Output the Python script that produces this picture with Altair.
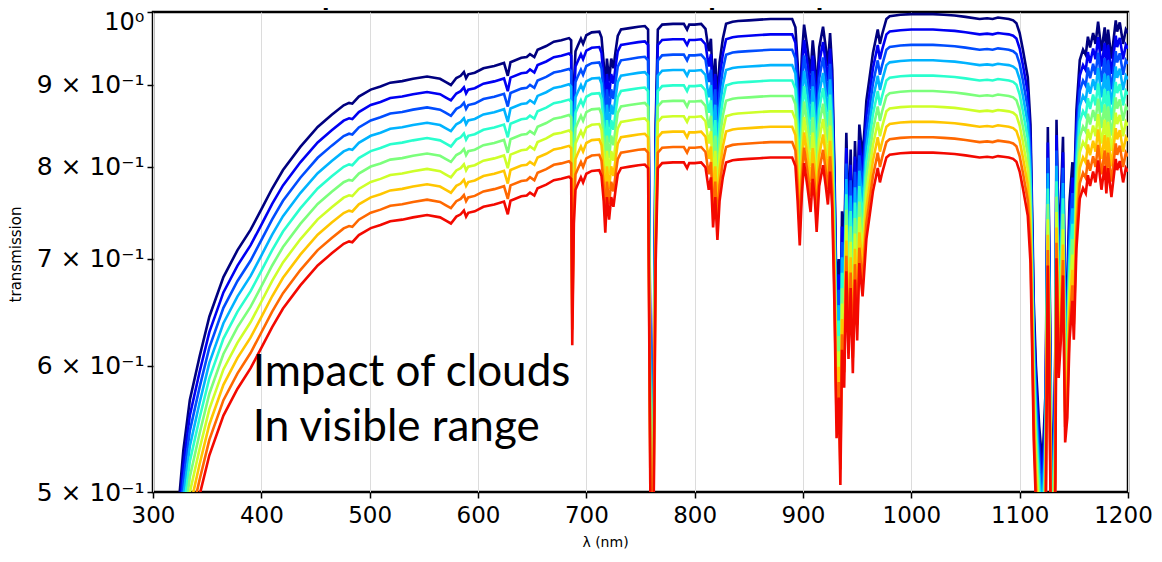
import altair as alt
import pandas as pd

# ---------------- data ----------------
wavelength_nm = [300, 310, 318, 325, 328, 334, 343, 352, 365, 378, 390, 400, 410, 420, 436, 452, 465, 476, 481, 484,
                 490, 501, 510, 519, 530, 540, 553, 565, 570, 575, 580, 584, 587, 589, 591, 597, 605, 615, 624, 627.5,
                 630, 640, 645, 648, 652, 655, 663, 670, 677, 684, 686, 687, 688.5, 690, 692, 695, 697, 700, 705, 712,
                 714, 716, 717.5, 719, 721, 723, 725, 727, 729, 732, 740, 748, 754, 757, 759, 760.5, 762, 764, 766, 770,
                 780, 790, 793, 795, 800, 806, 810, 813, 815, 817, 819, 821, 823, 826, 829, 835, 840, 850, 860, 870,
                 880, 890, 893, 895, 897, 899, 901, 904, 907, 909, 911, 912.6, 915, 918.5, 921, 923, 925, 927, 929, 931,
                 933, 934.5, 936, 938, 940, 942, 944, 946, 948, 950, 952, 955, 958.5, 961, 964.6, 967, 969, 971, 973, 977,
                 980, 990, 1000, 1010, 1020, 1030, 1040, 1050, 1063, 1070, 1075, 1080, 1085, 1090, 1094, 1097, 1100, 1103,
                 1107.5, 1110, 1112, 1113, 1115, 1118, 1121, 1124, 1126, 1127.5, 1129, 1131, 1133, 1134, 1136, 1138, 1140,
                 1142, 1144, 1146, 1148.7, 1150, 1152.4, 1155.5, 1158.5, 1161, 1163, 1165, 1167.8, 1170, 1172.4, 1175.5,
                 1178.5, 1180, 1181.6, 1184.7, 1188.7, 1190, 1192.4, 1195.5, 1198, 1200]

# transmission without clouds (top, dark-blue curve)
clear_sky_transmission = [0.30, 0.37, 0.445, 0.503, 0.531, 0.571, 0.608, 0.644, 0.682, 0.709, 0.730, 0.752, 0.775, 0.796,
                          0.823, 0.847, 0.862, 0.874, 0.877, 0.876, 0.885, 0.894, 0.898, 0.903, 0.905, 0.908, 0.911, 0.908,
                          0.904, 0.900, 0.909, 0.912, 0.917, 0.909, 0.914, 0.916, 0.922, 0.925, 0.929, 0.912, 0.930, 0.936,
                          0.937, 0.941, 0.937, 0.947, 0.952, 0.958, 0.960, 0.963, 0.960, 0.755, 0.90, 0.945, 0.952, 0.962,
                          0.955, 0.967, 0.971, 0.972, 0.964, 0.93, 0.888, 0.935, 0.905, 0.935, 0.922, 0.945, 0.966, 0.975,
                          0.977, 0.979, 0.980, 0.975, 0.62, 0.45, 0.58, 0.85, 0.975, 0.982, 0.983, 0.983, 0.975, 0.982,
                          0.982, 0.983, 0.976, 0.945, 0.962, 0.895, 0.935, 0.879, 0.93, 0.962, 0.983, 0.986, 0.987, 0.988,
                          0.989, 0.990, 0.990, 0.990, 0.978, 0.93, 0.872, 0.94, 0.982, 0.95, 0.915, 0.96, 0.93, 0.889,
                          0.95, 0.979, 0.95, 0.925, 0.97, 0.92, 0.80, 0.66, 0.70, 0.617, 0.75, 0.71, 0.84, 0.74, 0.82,
                          0.725, 0.83, 0.76, 0.85, 0.81, 0.88, 0.905, 0.943, 0.96, 0.975, 0.955, 0.968, 0.99, 0.994,
                          0.996, 0.997, 0.997, 0.997, 0.996, 0.995, 0.993, 0.990, 0.991, 0.990, 0.992, 0.991, 0.990,
                          0.988, 0.984, 0.970, 0.947, 0.910, 0.85, 0.72, 0.658, 0.60, 0.55, 0.52, 0.58, 0.847, 0.70,
                          0.56, 0.50, 0.62, 0.856, 0.72, 0.76, 0.835, 0.656, 0.68, 0.76, 0.805, 0.761, 0.868, 0.933,
                          0.947, 0.94, 0.965, 0.95, 0.97, 0.955, 0.986, 0.945, 0.978, 0.94, 0.975, 0.935, 0.988, 0.972,
                          0.985, 0.955, 0.975, 0.97]

# cloud transmission factor of each curve (optical depth 0 ... 0.2)
optical_depth_labels = ["0.000", "0.022", "0.044", "0.067", "0.089", "0.111", "0.133", "0.156", "0.178", "0.200"]
cloud_factor = [1.000, 0.978, 0.9565, 0.9355, 0.915, 0.8948, 0.8751, 0.8559, 0.8371, 0.8187]
line_colors = ["#000080", "#0000f3", "#004dff", "#00b3ff", "#29ffce", "#7bff7b", "#ceff29", "#ffc600", "#ff6800", "#f30900"]

x_ticks = [300, 400, 500, 600, 700, 800, 900, 1000, 1100, 1200]
y_ticks = [0.5, 0.6, 0.7, 0.8, 0.9, 1.0]

annotation_text = ["Impact of clouds", "In visible range"]
annotation_x = [392, 392]
annotation_y = [0.583, 0.538]
title_text = "Atmospheric transmission for cloud optical depth from 0 to 0.2"

# ---------------- tables ----------------
rows = []
for lab, f in zip(optical_depth_labels, cloud_factor):
    for w, t in zip(wavelength_nm, clear_sky_transmission):
        rows.append({"tau": lab, "wl": w, "tr": t * f})
df = pd.DataFrame(rows)
ann_df = pd.DataFrame({"txt": annotation_text, "wl": annotation_x, "tr": annotation_y})
title_df = pd.DataFrame({"t": [title_text]})

x_scale = alt.Scale(domain=[300, 1200], nice=False, zero=False)
y_scale = alt.Scale(type="log", domain=[0.5, 1.0], nice=False)

lines = alt.Chart(df).mark_line(strokeWidth=2.6, clip=True).encode(
    x=alt.X("wl:Q", scale=x_scale,
            axis=alt.Axis(values=x_ticks, format="d", labelFlush=False, title="λ (nm)", grid=True,
                          gridColor="#dcdcdc", gridWidth=1,
                          labelOffset={"condition": {"test": "datum.value >= 1199", "value": -5}, "value": 0},
                          domain=False, labelFont="DejaVu Sans", labelFontSize=23, labelColor="black",
                          labelPadding=6, tickColor="black", tickSize=6, tickWidth=1.5,
                          titleFont="DejaVu Sans", titleFontSize=14, titleFontWeight="normal", titleColor="black",
                          titleX=452, titleY=50, titleBaseline="middle", titleAlign="center")),
    y=alt.Y("tr:Q", scale=y_scale,
            axis=alt.Axis(values=y_ticks, title="transmission", grid=False, domain=False,
                          labelExpr="datum.value >= 0.999 ? '10⁰' : format(round(datum.value*10), 'd') + ' × 10⁻¹'",
                          labelOffset={"condition": {"test": "datum.value >= 0.999", "value": 10}, "value": 0},
                          labelFontSize={"condition": {"test": "datum.value >= 0.999", "value": 24}, "value": 25},
                          labelFont="DejaVu Sans", labelColor="black", labelPadding=3,
                          tickColor="black", tickSize=6, tickWidth=1.5,
                          titleFont="DejaVu Sans", titleFontSize=15, titleFontWeight="normal", titleColor="black",
                          titleAngle=-90, titleX=-138, titleY=242, titleBaseline="middle", titleAlign="center")),
    color=alt.Color("tau:N", scale=alt.Scale(domain=optical_depth_labels, range=line_colors), legend=None,
                    sort=optical_depth_labels),
)

ann = alt.Chart(ann_df).mark_text(align="left", baseline="alphabetic", font="Lato", fontSize=44,
                                  color="black").encode(
    x=alt.X("wl:Q", scale=x_scale),
    y=alt.Y("tr:Q", scale=y_scale),
    text="txt:N",
)

title_mark = alt.Chart(title_df).mark_text(align="center", baseline="alphabetic", font="DejaVu Sans",
                                           fontSize=22, fontWeight="bold", color="black").encode(
    x=alt.value(482), y=alt.value(-6), text="t:N"
)

chart = alt.layer(lines, ann, title_mark).properties(
    width=975, height=480,
    autosize=alt.AutoSizeParams(type="none"),
    padding={"left": 145, "top": 4, "right": 26, "bottom": 60},
).configure_view(stroke="black", strokeWidth=2.5)

chart.save("out.html", embed_options={"renderer": "svg", "actions": False})
